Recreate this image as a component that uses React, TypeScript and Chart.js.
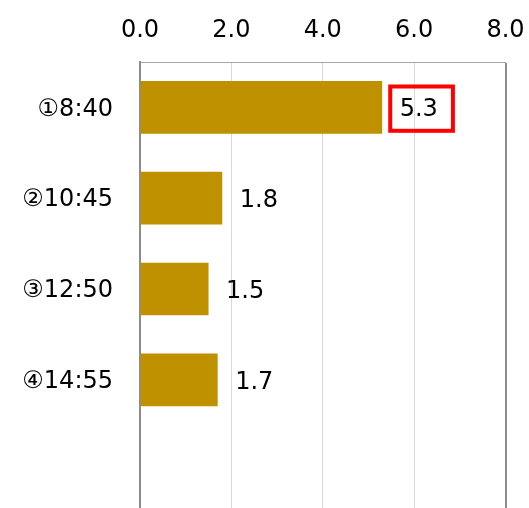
import React, { useEffect, useRef } from 'react';
import { Chart, registerables } from 'chart.js';
Chart.register(...registerables);

const categories = ['①8:40', '②10:45', '③12:50', '④14:55', ''];
const values: (number | null)[] = [5.3, 1.8, 1.5, 1.7, null];
const valueLabels = ['5.3', '1.8', '1.5', '1.7', ''];
const highlighted = [true, false, false, false, false];
const xTicks = [0, 2, 4, 6, 8];

const FONT = "'DejaVu Sans', 'Noto Sans CJK JP', sans-serif";

export default function App() {
  const ref = useRef<HTMLCanvasElement>(null);
  useEffect(() => {
    if (!ref.current) return;
    const labelPlugin = {
      id: 'valueLabels',
      afterDatasetsDraw(chart: any) {
        const ctx = chart.ctx;
        const meta = chart.getDatasetMeta(0);
        ctx.save();
        ctx.font = `24px ${FONT}`;
        ctx.textAlign = 'left';
        ctx.textBaseline = 'middle';
        meta.data.forEach((bar: any, i: number) => {
          if (values[i] == null) return;
          const x = bar.x + 17.5;
          const y = bar.y + 2.5;
          ctx.fillStyle = '#000000';
          ctx.fillText(valueLabels[i], x, y);
          if (highlighted[i]) {
            const w = ctx.measureText(valueLabels[i]).width;
            ctx.strokeStyle = '#FF0000';
            ctx.lineWidth = 4;
            ctx.strokeRect(x - 9.4, bar.y - 20.9, w + 24.5, 44.3);
          }
        });
        ctx.restore();
      },
    };
    const chart = new Chart(ref.current, {
      type: 'bar',
      data: {
        labels: categories,
        datasets: [
          {
            data: values as any,
            backgroundColor: '#BF9000',
            borderWidth: 0,
            barPercentage: 0.58,
            categoryPercentage: 1,
          },
        ],
      },
      options: {
        indexAxis: 'y',
        animation: false,
        responsive: false,
        layout: { padding: { left: 0, right: 23.5, top: 0, bottom: 0 } },
        plugins: { legend: { display: false }, tooltip: { enabled: false } },
        scales: {
          x: {
            type: 'linear',
            position: 'top',
            min: 0,
            max: 8,
            afterBuildTicks: (s: any) => {
              s.ticks = xTicks.map((v) => ({ value: v }));
            },
            afterFit: (s: any) => {
              s.height = 62;
              s.paddingLeft = 0;
              s.paddingRight = 0;
              s.paddingTop = 0;
              s.paddingBottom = 0;
            },
            ticks: {
              callback: (v: any) => Number(v).toFixed(1),
              font: { family: FONT, size: 24 },
              color: '#000000',
              padding: 17,
            },
            grid: {
              drawTicks: false,
              color: (c: any) => (c.index === xTicks.length - 1 ? '#8c8c8c' : '#d9d9d9'),
              lineWidth: (c: any) => (c.index === xTicks.length - 1 ? 2 : 1),
            },
            border: { display: true, color: '#a6a6a6', width: 1 },
          },
          y: {
            type: 'category',
            position: 'left',
            afterFit: (s: any) => {
              s.width = 140;
              s.paddingLeft = 0;
              s.paddingRight = 0;
              s.paddingTop = 0;
              s.paddingBottom = 0;
            },
            ticks: {
              font: { family: FONT, size: 24 },
              color: '#000000',
              padding: 27,
              labelOffset: 2,
            },
            grid: { display: false, drawTicks: false },
            border: { display: true, color: '#8c8c8c', width: 2 },
          },
        },
      },
      plugins: [labelPlugin],
    });
    return () => chart.destroy();
  }, []);

  return (
    <div
      style={{
        position: 'fixed',
        top: 0,
        left: 0,
        width: 529,
        height: 508,
        overflow: 'hidden',
        background: '#ffffff',
      }}
    >
      <canvas ref={ref} width={529} height={516} style={{ display: 'block' }} />
    </div>
  );
}
